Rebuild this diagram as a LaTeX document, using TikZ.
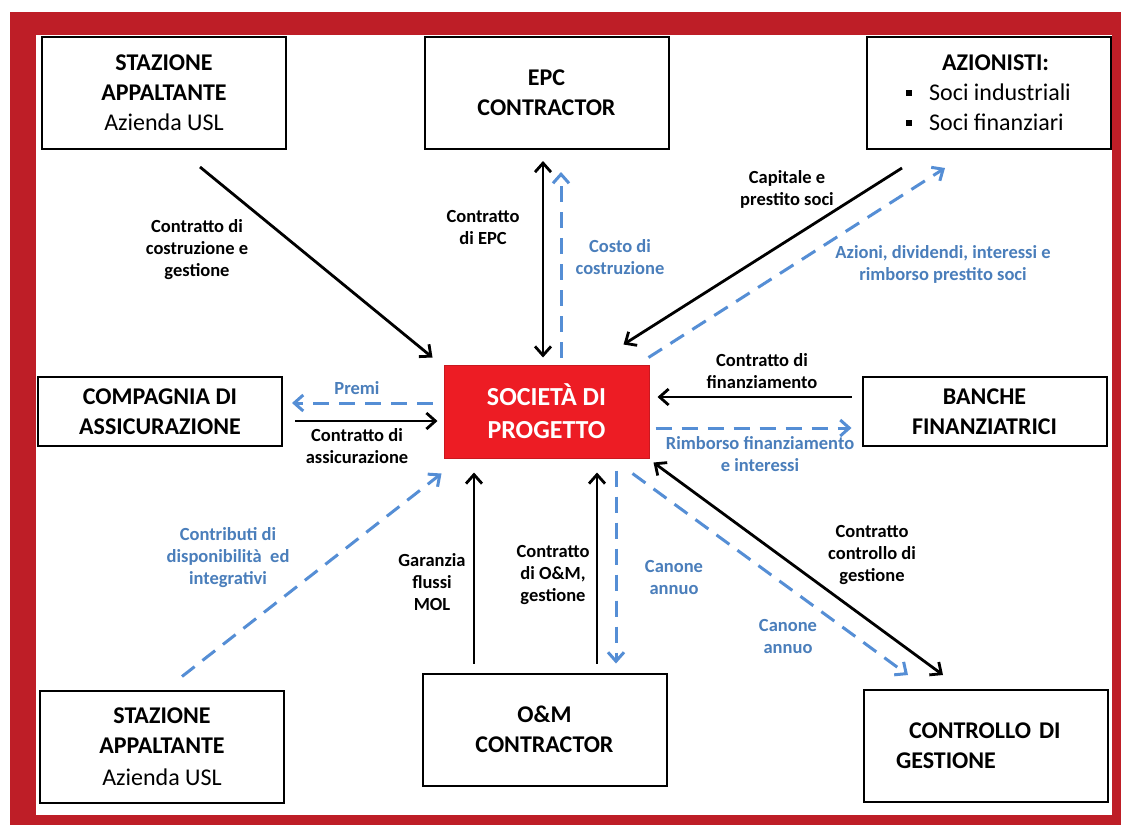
\documentclass[tikz,border=0pt]{standalone}
\usepackage{fontspec}
\setmainfont{Carlito}
\usepackage{tikz}
\usetikzlibrary{arrows.meta,calc}
\definecolor{framered}{RGB}{190,30,39}
\definecolor{socred}{RGB}{237,28,36}
\definecolor{flowblue}{RGB}{85,142,213}
\definecolor{textblue}{RGB}{74,126,187}
\newcommand{\sqbul}{\rule[5pt]{6pt}{6pt}\hspace{17pt}}

\begin{document}
\begin{tikzpicture}[x=1pt, y=-1pt,
          box/.style={draw, line width=2pt, minimum width=244pt,
                      minimum height=112pt, align=center,
                      font=\fontsize{24}{30}\selectfont},
          flatbox/.style={box, minimum height=69pt, font=\bfseries\fontsize{24}{30}\selectfont},
          socbox/.style={fill=socred, draw=socred!85!black, line width=1pt,
                      minimum width=205pt, minimum height=93pt, align=center,
                      text=white, font=\bfseries\fontsize{26}{33}\selectfont},
          lbl/.style={align=center, inner sep=0pt,
                      font=\bfseries\fontsize{18.5}{22}\selectfont},
          blbl/.style={lbl, text=textblue},
          blk/.style={line width=2.8pt, -{Straight Barb[length=9pt,width=16pt]}},
          blkboth/.style={line width=2.8pt, {Straight Barb[length=9pt,width=16pt]}-{Straight Barb[length=9pt,width=16pt]}},
          flow/.style={draw=flowblue, line width=3pt, dash pattern=on 16pt off 10pt,
                      -{Straight Barb[length=9pt,width=16pt]}}]
        % frame
        \useasboundingbox (0,0) rectangle (1121,825);
        \fill[framered] (10,12) rectangle (1121,825);
        \fill[white] (36,35) rectangle (1112,815);

        % boxes
        \node[box, text depth=-6pt] (sta1) at (164,92.5) {%
          \textbf{STAZIONE}\\ \textbf{APPALTANTE}\\ Azienda USL};
        \node[box, font=\bfseries\fontsize{24}{30}\selectfont] (epc) at (546.5,93) {%
          EPC\\ CONTRACTOR};
        \node[box, align=left] (azio) at (988.5,93) {%
          \hspace*{36pt}\textbf{AZIONISTI:}\\ \sqbul Soci industriali\\ \sqbul Soci finanziari};
        \node[flatbox] (comp) at (160,411.5) {COMPAGNIA DI\\ ASSICURAZIONE};
        \node[socbox] (soc) at (546.5,411.5) {SOCIETÀ DI\\ PROGETTO};
        \node[flatbox] (banche) at (984.5,411.5) {BANCHE\\ FINANZIATRICI};
        \node[box, text depth=-6pt] (sta2) at (162,746.5) {%
          \textbf{STAZIONE}\\ \textbf{APPALTANTE}\\[2pt] Azienda USL};
        \node[box, font=\bfseries\fontsize{24}{30}\selectfont] (om) at (544.5,729.5) {%
          O\&M\\ CONTRACTOR};
        \node[box, align=left, text width=180pt, font=\bfseries\fontsize{24}{30}\selectfont]
          (ctrl) at (986,746) {\hspace*{13pt}CONTROLLO DI\\ GESTIONE};

        % connectors
        \draw[blk] ($(sta1.south)+(36,17.5)$) -- ($(soc.north west)+(-11,-7)$);
        \draw[blkboth] ($(epc.south)+(-3.5,11)$) -- ($(soc.north)+(-3.5,-7)$);
        \draw[flow] ($(soc.north)+(14.5,-7)$) -- ($(epc.south)+(14.5,22)$);
        \draw[blk] ($(azio.south)+(-86.5,18)$) -- ($(soc.north east)+(-26,-20)$);
        \draw[flow] ($(soc.north east)+(-1,-7)$) -- ($(azio.south)+(-43.5,18)$);
        \draw[blk] ($(banche.west)+(-10,-14.5)$) -- ($(soc.east)+(8,-14.5)$);
        \draw[flow] ($(soc.east)+(6,16.5)$) -- ($(banche.west)+(-10,16.5)$);
        \draw[flow] ($(soc.west)+(-11,-8.5)$) -- ($(comp.east)+(9,-8.5)$);
        \draw[blk] ($(comp.east)+(12,9.5)$) -- ($(soc.west)+(-6,9.5)$);
        \draw[flow] ($(sta2.north)+(20,-13)$) -- ($(soc.south west)+(-2,15)$);
        \draw[blk] ($(om.north)+(-70.5,-9)$) -- ($(soc.south)+(-72.5,14)$);
        \draw[blk] ($(om.north)+(52.5,-9)$) -- ($(soc.south)+(50.5,14)$);
        \draw[flow] ($(soc.south)+(69.5,12)$) -- ($(om.north)+(71.5,-9)$);
        \draw[flow] ($(soc.south east)+(-17,15)$) -- ($(ctrl.north)+(-78,-14)$);
        \draw[blkboth] ($(soc.south east)+(4,4)$) -- ($(ctrl.north)+(-43,-14)$);

        % labels
        \node[lbl] (lcostr) at (197,250) {Contratto di\\ costruzione e\\ gestione};
        \node[lbl] (lepc) at (483,227) {Contratto\\ di EPC};
        \node[blbl] (lcosto) at (620,257) {Costo di\\ costruzione};
        \node[lbl] (lcap) at (787,189) {Capitale e\\ prestito soci};
        \node[blbl] (lazioni) at (943,264) {Azioni, dividendi, interessi e\\ rimborso prestito soci};
        \node[lbl] (lfin) at (762,371) {Contratto di\\ finanziamento};
        \node[blbl] (lrimb) at (760,454) {Rimborso finanziamento\\ e interessi};
        \node[blbl] (lpremi) at (357,388) {Premi};
        \node[lbl] (lassic) at (357,446) {Contratto di\\ assicurazione};
        \node[blbl] (lcontrib) at (228,558) {Contributi di\\ disponibilità\ \ ed\\ integrativi};
        \node[lbl] (lgar) at (432,582) {Garanzia\\ flussi\\ MOL};
        \node[lbl] (lom) at (553,575) {Contratto\\ di O\&M,\\ gestione};
        \node[blbl] (lcan1) at (674,577) {Canone\\ annuo};
        \node[lbl] (lctrl) at (872,555) {Contratto\\ controllo di\\ gestione};
        \node[blbl] (lcan2) at (788,636) {Canone\\ annuo};
      \end{tikzpicture}
\end{document}
